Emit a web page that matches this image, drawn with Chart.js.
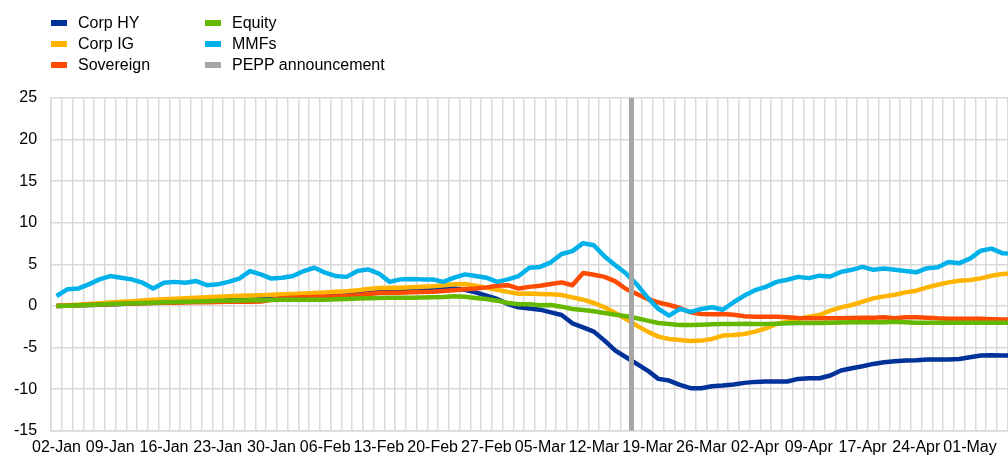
<!DOCTYPE html>
<html><head><meta charset="utf-8">
<script src="https://cdn.jsdelivr.net/npm/chart.js@4.4.0/dist/chart.umd.min.js"></script>
<style>
html,body{margin:0;padding:0;background:#fff;overflow:hidden;}
#wrap{position:relative;width:1008px;height:455px;overflow:hidden;}
#chart{position:absolute;left:0;top:0;}
.leg{position:absolute;font:16px "Liberation Sans",Arial,sans-serif;color:#000;line-height:18px;white-space:nowrap;}
.leg i{position:absolute;left:-27px;top:6px;width:16px;height:6px;}
</style></head><body>
<div id="wrap"><canvas id="chart" width="1020" height="455"></canvas><div id="legend"></div></div>
<script>
// Business days 2020 (Good Friday excluded); the last one is cut by the right edge of the picture
const categories = [
 '02-Jan','03-Jan','06-Jan','07-Jan','08-Jan','09-Jan','10-Jan','13-Jan','14-Jan','15-Jan','16-Jan','17-Jan','20-Jan','21-Jan','22-Jan','23-Jan','24-Jan','27-Jan','28-Jan','29-Jan','30-Jan','31-Jan',
 '03-Feb','04-Feb','05-Feb','06-Feb','07-Feb','10-Feb','11-Feb','12-Feb','13-Feb','14-Feb','17-Feb','18-Feb','19-Feb','20-Feb','21-Feb','24-Feb','25-Feb','26-Feb','27-Feb','28-Feb',
 '02-Mar','03-Mar','04-Mar','05-Mar','06-Mar','09-Mar','10-Mar','11-Mar','12-Mar','13-Mar','16-Mar','17-Mar','18-Mar','19-Mar','20-Mar','23-Mar','24-Mar','25-Mar','26-Mar','27-Mar','30-Mar','31-Mar',
 '01-Apr','02-Apr','03-Apr','06-Apr','07-Apr','08-Apr','09-Apr','13-Apr','14-Apr','15-Apr','16-Apr','17-Apr','20-Apr','21-Apr','22-Apr','23-Apr','24-Apr','27-Apr','28-Apr','29-Apr','30-Apr',
 '01-May','04-May','05-May','06-May','07-May'
];
const tickLabels = ['02-Jan','09-Jan','16-Jan','23-Jan','30-Jan','06-Feb','13-Feb','20-Feb','27-Feb','05-Mar','12-Mar','19-Mar','26-Mar','02-Apr','09-Apr','17-Apr','24-Apr','01-May'];
const yTicks = [-15,-10,-5,0,5,10,15,20,25];

const corpHY = [
 0,0.04,0.08,0.12,0.16,0.2,0.25,0.3,0.35,0.4,0.44,0.48,0.52,0.56,0.6,0.64,0.68,0.72,0.76,0.8,0.85,0.9,
 1.0,1.05,1.1,1.15,1.22,1.3,1.44,1.58,1.7,1.75,1.8,1.85,1.9,1.96,2.02,2.1,1.96,1.64,1.24,0.84,0.24,-0.16,-0.3,
 -0.44,-0.76,-1.08,-2.08,-2.56,-3.08,-4.16,-5.36,-6.16,-6.96,-7.76,-8.76,-8.96,-9.48,-9.88,-9.88,-9.64,-9.56,-9.44,-9.24,-9.12,-9.08,
 -9.08,-9.08,-8.76,-8.68,-8.68,-8.36,-7.76,-7.48,-7.24,-6.96,-6.76,-6.64,-6.56,-6.52,-6.44,-6.44,-6.44,-6.36,-6.16,-5.96,-5.92,-5.96,-5.96
];
const corpIG = [
 0,0.08,0.16,0.24,0.32,0.42,0.5,0.58,0.66,0.74,0.82,0.88,0.94,1.0,1.05,1.1,1.16,1.22,1.26,1.3,1.35,1.4,
 1.44,1.5,1.56,1.62,1.7,1.78,1.9,2.05,2.15,2.18,2.2,2.24,2.3,2.36,2.5,2.62,2.64,2.45,2.2,1.96,1.7,1.48,1.5,
 1.44,1.4,1.32,1.04,0.76,0.36,-0.16,-0.84,-1.56,-2.36,-3.08,-3.68,-3.96,-4.08,-4.2,-4.16,-3.96,-3.56,-3.48,-3.36,-3.08,-2.68,
 -2.16,-1.88,-1.56,-1.28,-1.08,-0.56,-0.16,0.12,0.52,0.92,1.16,1.36,1.64,1.84,2.24,2.56,2.84,3.04,3.12,3.32,3.64,3.84,3.9
];
const sovereign = [
 0,0.05,0.1,0.14,0.18,0.22,0.26,0.3,0.33,0.35,0.38,0.4,0.42,0.44,0.46,0.48,0.5,0.52,0.5,0.55,0.75,0.92,
 1.0,1.04,1.07,1.1,1.15,1.2,1.3,1.45,1.55,1.58,1.6,1.64,1.67,1.7,1.8,1.9,2.0,2.1,2.24,2.44,2.5,2.1,2.3,
 2.44,2.64,2.84,2.5,3.96,3.76,3.5,2.96,2.04,1.44,0.84,0.44,0.12,-0.24,-0.76,-0.96,-1.0,-0.96,-1.04,-1.24,-1.28,-1.28,
 -1.28,-1.36,-1.44,-1.48,-1.48,-1.48,-1.46,-1.44,-1.4,-1.42,-1.36,-1.48,-1.36,-1.36,-1.4,-1.48,-1.52,-1.52,-1.52,-1.54,-1.58,-1.62,-1.62
];
const equity = [
 0,0.04,0.08,0.12,0.18,0.24,0.28,0.32,0.36,0.4,0.44,0.48,0.52,0.55,0.58,0.62,0.64,0.66,0.68,0.7,0.72,0.74,
 0.76,0.76,0.76,0.76,0.8,0.85,0.9,0.93,0.96,0.98,1.0,1.0,1.02,1.05,1.08,1.16,1.1,0.96,0.84,0.64,0.36,0.2,0.22,
 0.1,0.12,-0.08,-0.36,-0.48,-0.64,-0.84,-1.04,-1.24,-1.48,-1.76,-2.04,-2.16,-2.28,-2.28,-2.24,-2.2,-2.16,-2.16,-2.12,-2.16,-2.16,
 -2.12,-2.06,-2.04,-2.04,-2.04,-2.02,-1.98,-1.96,-1.96,-1.96,-1.94,-1.88,-1.94,-2.02,-2.0,-2.0,-2.0,-2.0,-2.0,-2.0,-2.0,-2.0,-2.0
];
const mmfs = [
 1.2,2.0,2.1,2.6,3.2,3.6,3.4,3.2,2.8,2.1,2.8,2.9,2.8,3.0,2.5,2.6,2.9,3.3,4.2,3.8,3.3,3.4,
 3.6,4.2,4.6,4.0,3.6,3.5,4.2,4.4,3.9,2.9,3.2,3.25,3.2,3.2,2.9,3.4,3.8,3.6,3.4,2.9,3.2,3.6,4.6,
 4.7,5.25,6.25,6.6,7.55,7.3,5.95,4.9,3.9,2.6,1.0,-0.35,-1.15,-0.35,-0.7,-0.35,-0.15,-0.45,0.45,1.25,1.9,2.3,
 2.9,3.15,3.5,3.35,3.65,3.55,4.1,4.35,4.7,4.35,4.5,4.35,4.2,4.05,4.55,4.65,5.3,5.15,5.7,6.65,6.9,6.35,6.3
];
// PEPP announcement: between 17-Mar and 18-Mar (category position)
const peppPosition = 53.5;

const seriesNames = ['Corp HY','Corp IG','Sovereign','Equity','MMFs','PEPP announcement'];
const seriesColors = ['#003299','#FFB400','#FF4B00','#65B800','#00B1EA','#A6A6A6'];

const yMin = yTicks[0], yMax = yTicks[yTicks.length-1];
const FONT = '"Liberation Sans", Arial, sans-serif';

const seriesData = [corpHY, corpIG, sovereign, equity, mmfs];
const datasets = seriesData.map((d, i) => ({
  label: seriesNames[i], data: d, borderColor: seriesColors[i], backgroundColor: seriesColors[i],
  borderWidth: 4.5, pointRadius: 0, tension: 0, fill: false, borderJoinStyle: 'round',
  order: 5 - i, xAxisID: 'x', yAxisID: 'y'
}));
datasets.push({
  label: seriesNames[5], data: [{x: peppPosition, y: yMin}, {x: peppPosition, y: yMax}],
  borderColor: seriesColors[5], backgroundColor: seriesColors[5], borderWidth: 5,
  pointRadius: 0, fill: false, order: 0, xAxisID: 'x2', yAxisID: 'y'
});

new Chart(document.getElementById('chart'), {
  type: 'line',
  data: { labels: categories, datasets },
  options: {
    responsive: false, animation: false, devicePixelRatio: 1,
    layout: { padding: { top: 98, left: 0, right: 0, bottom: -9 } },
    plugins: { legend: { display: false }, tooltip: { enabled: false } },
    scales: {
      x: {
        type: 'category', offset: true,
        grid: { offset: true, color: '#d9d9d9', lineWidth: 1.5, drawTicks: false },
        border: { color: '#d9d9d9', width: 1.5 },
        ticks: {
          autoSkip: false, maxRotation: 0, minRotation: 0, padding: 7, color: '#000',
          font: { family: FONT, size: 16 },
          callback: (v, i) => tickLabels.includes(categories[i]) ? categories[i] : ''
        }
      },
      x2: { type: 'linear', display: false, min: -0.5, max: categories.length - 0.5, offset: false },
      y: {
        min: yMin, max: yMax,
        grid: { color: '#d9d9d9', lineWidth: 1.5, drawTicks: false },
        border: { color: '#d9d9d9', width: 1.5 },
        ticks: { stepSize: 5, padding: 14, color: '#000', font: { family: FONT, size: 16 } },
        afterBuildTicks: s => { s.ticks = yTicks.map(v => ({ value: v })); }
      }
    }
  }
});

// HTML legend (two columns, three rows)
const legendPos = [[78,14],[78,35],[78,56],[232,14],[232,35],[232,56]];
const legend = document.getElementById('legend');
seriesNames.forEach((n, i) => {
  const el = document.createElement('div');
  el.className = 'leg';
  el.style.left = legendPos[i][0] + 'px';
  el.style.top = legendPos[i][1] + 'px';
  const sw = document.createElement('i');
  sw.style.background = seriesColors[i];
  el.appendChild(sw);
  el.appendChild(document.createTextNode(n));
  legend.appendChild(el);
});
</script>
</body></html>
